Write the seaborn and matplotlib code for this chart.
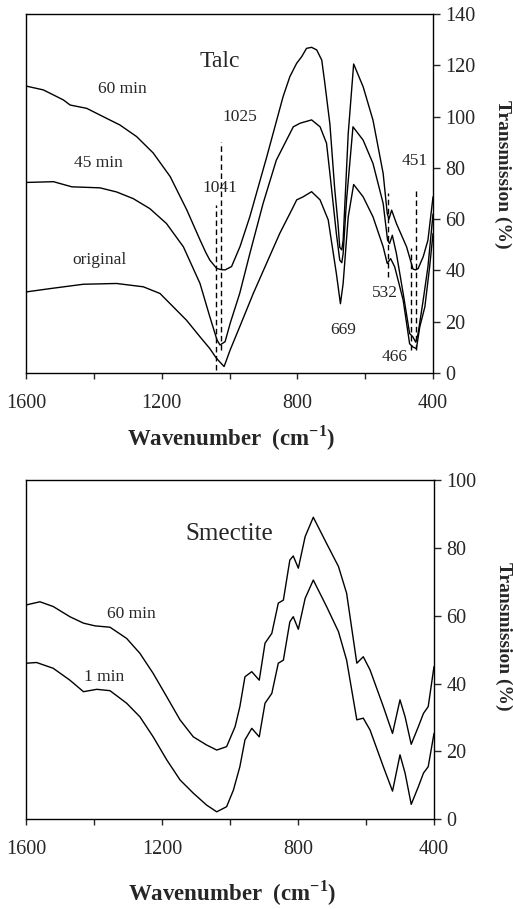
import matplotlib
matplotlib.use("Agg")
import matplotlib.pyplot as plt
import seaborn as sns
import numpy as np

# ---------------- data ----------------
# Talc panel
talc60_wn = [1600,1549,1490,1470,1421,1373,1323,1274,1225,1175,1126,1087,1070,1058,1038,1025,1013,994,969,940,890,842,822,802,787,773,758,743,728,719,704,690,680,675,669,665,650,634,606,577,547,535,530,522,508,478,459,451,444,429,415,400]
talc60_T = [111.9,110.4,106.5,104.5,103.2,100,96.7,92.2,85.8,76.6,63.6,51.9,47,44,40.8,40.3,40.2,41.5,49.3,61,84.4,107.8,115.6,120.8,123.4,126.6,127,126,122,113,97,72,58,49,48,51.8,93.4,120.5,111.6,98.6,77.8,62.2,60,63.5,58.3,49.2,40.5,40.2,40.7,45.3,51.8,68.7]

talc45_wn = [1600,1519,1465,1382,1333,1284,1235,1186,1136,1087,1058,1037,1028,1013,998,970,940,901,862,822,812,792,758,733,714,704,685,675,669,665,655,636,606,577,547,534,528,520,508,488,469,459,451,444,429,415,400]
talc45_T = [74.3,74.6,72.6,72.2,70.6,68,64.1,58.3,49.2,34.9,21.9,12.9,10.9,12.2,19.4,31,46.6,66.1,83,93.4,96,97.4,98.7,96,89.6,77.8,54.4,44,43,46.6,67.4,96,90.8,81.7,66.1,51.8,50.5,53.7,46.6,31,15.4,14,12,15.4,28.4,41.4,62]

talcorig_wn = [1600,1529,1431,1333,1254,1205,1166,1127,1087,1058,1040,1030,1016,998,970,930,891,852,812,802,783,758,733,709,685,673,665,650,634,606,577,547,535,525,513,488,469,459,449,439,424,410,400]
talcorig_T = [31.6,32.9,34.6,34.9,33.6,31,25.8,20.6,14.1,9.5,6,4.5,2.5,9,18,31,42.7,54.4,64.8,67.5,68.7,70.7,67.5,59.7,38.8,27,34.9,60.9,73.5,68.7,60.9,49.2,42.7,44.6,41.4,28.4,11.4,10.1,9.5,18,25.8,41.4,54.4]

# dashed band markers: position, y from, y to
talc_band_wn = [1041, 1025, 532, 466, 451]
talc_band_lo = [1, 9, 37.6, 9, 9]
talc_band_hi = [65.4, 90, 70, 48.7, 72]

# band labels
talc_lab_text = ["1041", "1025", "669", "532", "466", "451"]
talc_lab_wn = [1028, 969, 665, 542, 512, 453]
talc_lab_T = [72, 99.7, 16.7, 31, 6.2, 82.7]

# Smectite panel
sm60_wn = [1598,1559,1520,1471,1431,1397,1353,1304,1265,1226,1186,1147,1108,1069,1039,1010,985,971,956,936,914,897,877,858,843,824,814,799,779,755,716,681,657,627,608,588,549,522,500,485,467,446,431,417,400]
sm60_T = [63.2,64.1,62.7,59.7,57.8,57,56.6,53.3,48.9,43,36.1,29.3,24.3,21.9,20.4,21.4,27.3,33.2,42,43.5,41,51.9,54.8,63.7,64.6,76.4,77.6,74,83.3,89,81.3,74.5,66.6,46,47.9,44,33.2,25.3,35.2,30.2,22.1,27.3,31.2,33.2,45]

sm1_wn = [1598,1569,1520,1471,1431,1392,1353,1304,1265,1226,1186,1147,1108,1069,1039,1010,990,971,956,936,914,897,877,858,843,824,814,799,779,755,716,681,657,627,608,588,549,522,500,485,467,446,431,417,400]
sm1_T = [46,46.2,44.5,41,37.6,38.3,37.9,34.2,30.2,24.3,17.5,11.6,7.7,4.2,2.2,3.7,8.6,15.5,23.4,26.8,24.3,34.2,37.1,46,46.9,58.2,59.7,56,65.1,70.5,62.7,55.3,46.9,29.3,29.8,26.3,15.5,8.3,19,13.6,4.4,9.6,13.6,15.5,25.3]

x_ticks = [1600, 1400, 1200, 1000, 800, 600, 400]
x_ticklabels = ["1600", "", "1200", "", "800", "", "400"]
talc_yticks = list(range(0, 141, 20))
sm_yticks = list(range(0, 101, 20))

# ---------------- style ----------------
sns.set_style("ticks")
plt.rcParams["font.family"] = ["Liberation Serif", "DejaVu Serif"]
plt.rcParams["mathtext.fontset"] = "custom"
plt.rcParams["mathtext.rm"] = "Liberation Serif"
plt.rcParams["mathtext.bf"] = "Liberation Serif:bold"
plt.rcParams["axes.linewidth"] = 1.0

fig = plt.figure(figsize=(5.13, 9.09), dpi=100)
ax1 = fig.add_axes([0.0507, 0.5897, 0.7934, 0.3949])
ax2 = fig.add_axes([0.0507, 0.0987, 0.7953, 0.3733])

lw = 1.0
for wn, T in [(talc60_wn, talc60_T), (talc45_wn, talc45_T), (talcorig_wn, talcorig_T)]:
    sns.lineplot(x=wn, y=T, ax=ax1, color="black", lw=lw, estimator=None, sort=False)
for wn, T in [(sm60_wn, sm60_T), (sm1_wn, sm1_T)]:
    sns.lineplot(x=wn, y=T, ax=ax2, color="black", lw=lw, estimator=None, sort=False)

for w, lo, hi in zip(talc_band_wn, talc_band_lo, talc_band_hi):
    ax1.plot([w, w], [lo, hi], color="black", lw=1.0, ls=(0, (4, 2.5)))

for t, w, v in zip(talc_lab_text, talc_lab_wn, talc_lab_T):
    ax1.text(w, v, t, fontsize=12.5, ha="center", va="center")

ax1.text(1028, 121.4, "Talc", fontsize=17, ha="center", va="center")
ax1.text(1315, 110.6, "60 min", fontsize=12.5, ha="center", va="center")
ax1.text(1387, 81.7, "45 min", fontsize=12.5, ha="center", va="center")
ax1.text(1382, 44, "original", fontsize=12.5, ha="center", va="center")

ax2.text(1002, 84, "Smectite", fontsize=18, ha="center", va="center")
ax2.text(1291, 60.5, "60 min", fontsize=12.5, ha="center", va="center")
ax2.text(1371, 42, "1 min", fontsize=12.5, ha="center", va="center")

for ax, yt, ylim, lab_y, yl_y in [(ax1, talc_yticks, (0, 140), -0.181, 0.554),
                                  (ax2, sm_yticks, (0, 100), -0.217, 0.538)]:
    ax.set_xlim(1600, 400)
    ax.set_ylim(*ylim)
    ax.set_xticks(x_ticks)
    ax.set_xticklabels(x_ticklabels)
    ax.set_yticks(yt)
    ax.yaxis.tick_right()
    ax.tick_params(axis="x", direction="out", length=4, width=1, pad=11, labelsize=14.5)
    ax.tick_params(axis="y", direction="out", length=5, width=1, pad=4, labelsize=14.5,
                   left=False, right=True, labelleft=False, labelright=True)
    for s in ax.spines.values():
        s.set_visible(True)
        s.set_color("black")
        s.set_linewidth(1.0)
    ax.set_xlabel("")
    ax.set_ylabel("")
    ax.text(0.504, lab_y, r"Wavenumber  (cm$^{\mathbf{-1}}$)", transform=ax.transAxes,
            fontsize=16.5, fontweight="bold", ha="center", va="center")
    ax.text(1.17, yl_y, "Transmission (%)", transform=ax.transAxes, rotation=270,
            fontsize=14, fontweight="bold", ha="center", va="center")

fig.savefig("out.png", dpi=100, facecolor="white")
